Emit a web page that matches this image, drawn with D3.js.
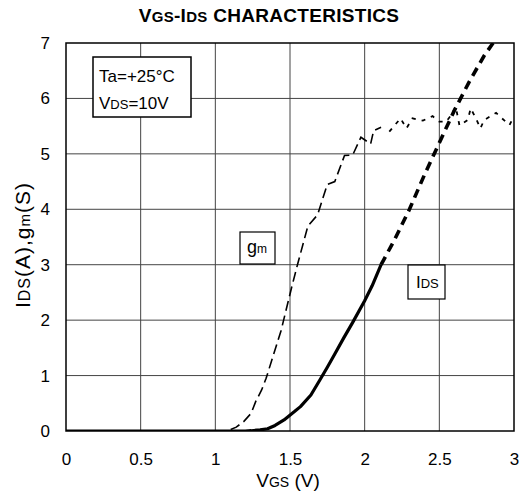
<!DOCTYPE html>
<html><head><meta charset="utf-8">
<script src="https://cdn.jsdelivr.net/npm/d3@7"></script>
<style>body{margin:0;background:#fff}svg{display:block}text{font-family:"Liberation Sans",Arial,sans-serif;fill:#000}</style>
</head><body><svg id="c" width="530" height="495"></svg>
<script>
const xTicks = [0, 0.5, 1, 1.5, 2, 2.5, 3];
const xTickLabels = ["0", "0.5", "1", "1.5", "2", "2.5", "3"];
const yTicks = [0, 1, 2, 3, 4, 5, 6, 7];
const yTickLabels = ["0", "1", "2", "3", "4", "5", "6", "7"];
// IDS: solid part (measured) and dashed part
const idsSolidV = [0, 1.0, 1.2, 1.24, 1.30, 1.35, 1.40, 1.46, 1.53, 1.57, 1.64, 1.70, 1.75, 1.80, 1.86, 1.92, 2.00, 2.05, 2.11];
const idsSolidI = [0, 0, 0, 0.005, 0.02, 0.04, 0.10, 0.20, 0.35, 0.44, 0.65, 0.92, 1.15, 1.39, 1.68, 1.96, 2.35, 2.62, 3.0];
const idsDashV = [2.11, 2.2, 2.3, 2.4, 2.5, 2.6, 2.7, 2.8, 2.86];
const idsDashI = [3.0, 3.45, 4.0, 4.62, 5.2, 5.78, 6.3, 6.77, 7.0];
// gm: dashed part and dotted part
const gmDashV = [0, 1.0, 1.08, 1.14, 1.19, 1.24, 1.27, 1.31, 1.34, 1.44, 1.51, 1.55, 1.62, 1.685, 1.72, 1.75, 1.80, 1.865, 1.92, 1.975, 2.04, 2.06, 2.11];
const gmDashG = [0, 0, 0.0, 0.07, 0.17, 0.32, 0.53, 0.74, 0.95, 1.81, 2.58, 3.0, 3.7, 3.9, 4.2, 4.45, 4.5, 4.97, 4.98, 5.3, 5.18, 5.42, 5.48];
const gmDotV = [2.165, 2.24, 2.28, 2.32, 2.39, 2.455, 2.50, 2.545, 2.58, 2.61, 2.635, 2.69, 2.71, 2.745, 2.775, 2.80, 2.88, 2.92, 2.97, 3.0];
const gmDotG = [5.4, 5.64, 5.46, 5.64, 5.6, 5.68, 5.58, 5.58, 5.7, 5.85, 5.51, 5.61, 5.82, 5.64, 5.46, 5.61, 5.74, 5.64, 5.52, 5.68];

const svg = d3.select("#c");
const L = 66, R = 514, T = 43, B = 431;
const x = d3.scaleLinear().domain([0, 3]).range([L, R]);
const y = d3.scaleLinear().domain([0, 7]).range([B, T]);

// grid
const g = svg.append("g");
g.selectAll(".vx").data(xTicks.slice(1, -1)).enter().append("line")
  .attr("x1", d => x(d)).attr("x2", d => x(d)).attr("y1", T).attr("y2", B)
  .attr("stroke", "#444").attr("stroke-width", 1);
g.selectAll(".hy").data(yTicks.slice(1, -1)).enter().append("line")
  .attr("x1", L).attr("x2", R).attr("y1", d => y(d)).attr("y2", d => y(d))
  .attr("stroke", "#444").attr("stroke-width", 1);

// axes tick labels
const xa = d3.axisBottom(x).tickValues(xTicks).tickFormat((d, i) => xTickLabels[i]).tickSize(0).tickPadding(22);
svg.append("g").attr("transform", `translate(0,${B})`).call(xa)
  .call(s => s.select(".domain").remove())
  .selectAll("text").style("font-size", "17px").style("font-family", "Liberation Sans, Arial, sans-serif");
const ya = d3.axisLeft(y).tickValues(yTicks).tickFormat((d, i) => yTickLabels[i]).tickSize(0).tickPadding(16);
svg.append("g").attr("transform", `translate(${L},0)`).call(ya)
  .call(s => s.select(".domain").remove())
  .selectAll("text").style("font-size", "17px").style("font-family", "Liberation Sans, Arial, sans-serif");

// curves
const line = d3.line().x(d => x(d[0])).y(d => y(d[1]));
svg.append("clipPath").attr("id", "pc").append("rect").attr("x", L).attr("y", T).attr("width", R - L).attr("height", B - T);
const cg = svg.append("g").attr("clip-path", "url(#pc)");
cg.append("path").datum(gmDashV.map((v, i) => [v, gmDashG[i]])).attr("d", line)
  .attr("fill", "none").attr("stroke", "#000").attr("stroke-width", 1.6).attr("stroke-dasharray", "10,5");
cg.append("path").datum(gmDotV.map((v, i) => [v, gmDotG[i]])).attr("d", line)
  .attr("fill", "none").attr("stroke", "#000").attr("stroke-width", 1.8).attr("stroke-dasharray", "4,6");
cg.append("path").datum(idsSolidV.map((v, i) => [v, idsSolidI[i]])).attr("d", line)
  .attr("fill", "none").attr("stroke", "#000").attr("stroke-width", 3.2).attr("stroke-linejoin", "round");
cg.append("path").datum(idsDashV.map((v, i) => [v, idsDashI[i]])).attr("d", line)
  .attr("fill", "none").attr("stroke", "#000").attr("stroke-width", 3.6).attr("stroke-dasharray", "9,6");

// border
svg.append("rect").attr("x", L).attr("y", T).attr("width", R - L).attr("height", B - T)
  .attr("fill", "none").attr("stroke", "#000").attr("stroke-width", 1.5);

// title
const title = svg.append("text").attr("x", 269).attr("y", 22).attr("text-anchor", "middle")
  .style("font-weight", "bold").style("font-size", "19px").style("letter-spacing", "0.3px");
title.append("tspan").text("V");
title.append("tspan").style("font-size", "15px").text("GS");
title.append("tspan").text("-I");
title.append("tspan").style("font-size", "15px").text("DS");
title.append("tspan").text(" CHARACTERISTICS");

// condition box
svg.append("rect").attr("x", 93).attr("y", 57).attr("width", 98).attr("height", 60)
  .attr("fill", "#fff").attr("stroke", "#000").attr("stroke-width", 1.5);
svg.append("text").attr("x", 99).attr("y", 82).style("font-size", "17px").text("Ta=+25°C");
const vds = svg.append("text").attr("x", 99).attr("y", 109).style("font-size", "17px");
vds.append("tspan").text("V");
vds.append("tspan").style("font-size", "13px").text("DS");
vds.append("tspan").text("=10V");

// gm label
svg.append("rect").attr("x", 240).attr("y", 232).attr("width", 35).attr("height", 32)
  .attr("fill", "#fff").attr("stroke", "#000").attr("stroke-width", 1.2);
const gm = svg.append("text").attr("x", 247).attr("y", 253).style("font-size", "18px");
gm.append("tspan").text("g");
gm.append("tspan").style("font-size", "12px").text("m");

// IDS label
svg.append("rect").attr("x", 408).attr("y", 265).attr("width", 37).attr("height", 34)
  .attr("fill", "#fff").attr("stroke", "#000").attr("stroke-width", 1.2);
const idl = svg.append("text").attr("x", 416).attr("y", 288).style("font-size", "17px");
idl.append("tspan").text("I");
idl.append("tspan").style("font-size", "13px").text("DS");

// x axis title
const xt = svg.append("text").attr("x", 288).attr("y", 487).attr("text-anchor", "middle").style("font-size", "19px");
xt.append("tspan").text("V");
xt.append("tspan").style("font-size", "14px").text("GS");
xt.append("tspan").text(" (V)");

// y axis title
const yt = svg.append("text").attr("transform", "translate(30,245) rotate(-90)").attr("text-anchor", "middle")
  .style("font-size", "21px").style("letter-spacing", "1px");
yt.append("tspan").text("I");
yt.append("tspan").style("font-size", "16px").text("DS");
yt.append("tspan").text("(A),g");
yt.append("tspan").style("font-size", "15px").text("m");
yt.append("tspan").text("(S)");
</script></body></html>
